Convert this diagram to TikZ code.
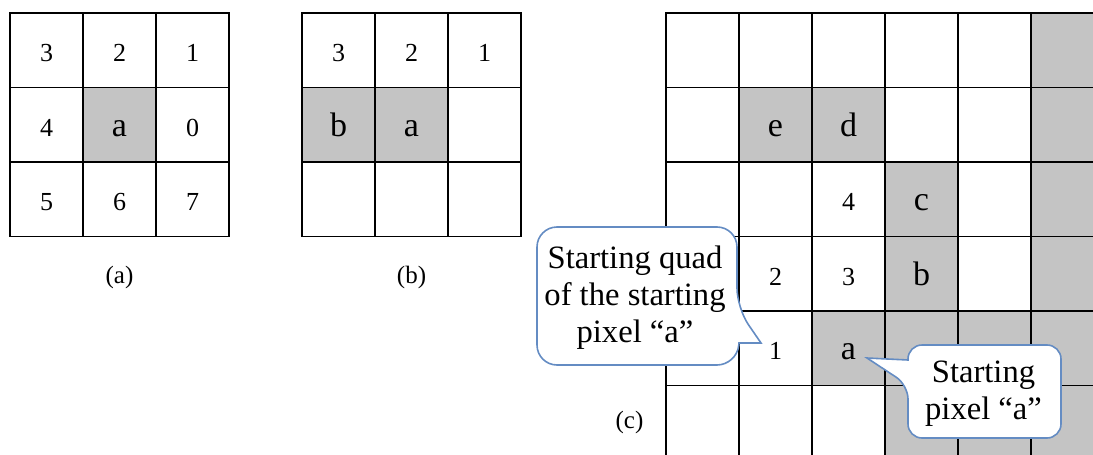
\documentclass[tikz,border=0pt]{standalone}
\usepackage{fontspec}
\setmainfont{Liberation Serif}
\usetikzlibrary{positioning}

\definecolor{pixelgray}{RGB}{196,196,196}
\definecolor{calloutblue}{RGB}{100,140,195}

\begin{document}
\begin{tikzpicture}[x=0.5pt, y=-0.5pt, on grid, node distance=37.25pt and 36.5pt]

		\tikzstyle{cell} = [draw, line width=0.8pt, minimum width=36.5pt, minimum height=37.25pt, inner sep=0pt]
		\tikzstyle{num} = [inner sep=0pt, text height=11.5pt, text depth=0pt, font=\fontsize{13}{15}\selectfont]
		\tikzstyle{chr} = [num, font=\fontsize{17}{20}\selectfont]
		\tikzstyle{caption} = [font=\fontsize{12.5}{14}\selectfont]
		\tikzstyle{callout} = [draw=calloutblue, fill=white, line width=0.8pt]
		\tikzstyle{calloutText} = [align=center, font=\fontsize{16.3}{18.5}\selectfont]

		\useasboundingbox (0,0) rectangle (1093,455);

		% Grid (a)
		\fill[pixelgray] (83,87.5) rectangle ++(73,74.5);
		\foreach \r in {0,1,2}
			\foreach \c in {0,1,2}
				\node[cell] (a\r\c) at (46.5+73*\c, 50.25+74.5*\r) {};
		\foreach \r/\c/\lbl in {0/0/3, 0/1/2, 0/2/1, 1/0/4, 1/2/0, 2/0/5, 2/1/6, 2/2/7}
			\node[num] (la\r\c) at (a\r\c) {\lbl};
		\node[chr] (la11) at (a11) {a};
		\node[caption, below=39pt of a21] (capA) {(a)};

		% Grid (b)
		\fill[pixelgray] (302,87.5) rectangle ++(146,74.5);
		\foreach \r in {0,1,2}
			\foreach \c in {0,1,2}
				\node[cell] (b\r\c) at (338.5+73*\c, 50.25+74.5*\r) {};
		\foreach \c/\lbl in {0/3, 1/2, 2/1}
			\node[num] (lb0\c) at (b0\c) {\lbl};
		\node[chr] (lb10) at (b10) {b};
		\node[chr] (lb11) at (b11) {a};
		\node[caption, below=39pt of b21] (capB) {(b)};

		% Grid (c)
		\begin{scope}
			\clip (0,0) rectangle (1093,455);
			\foreach \r/\c in {0/5, 1/1, 1/2, 1/5, 2/3, 2/5, 3/3, 3/5, 4/2, 4/3, 4/4, 4/5, 5/3, 5/4, 5/5}
				\fill[pixelgray] (666+73*\c, 13+74.5*\r) rectangle ++(73,74.5);
			\foreach \r in {0,...,5}
				\foreach \c in {0,...,5}
					\node[cell] (c\r\c) at (702.5+73*\c, 50.25+74.5*\r) {};
		\end{scope}
		\foreach \r/\c/\lbl in {2/2/4, 3/1/2, 3/2/3, 4/1/1}
			\node[num] (lc\r\c) at (c\r\c) {\lbl};
		\foreach \r/\c/\lbl in {1/1/e, 1/2/d, 2/3/c, 3/3/b, 4/2/a}
			\node[chr] (lc\r\c) at (c\r\c) {\lbl};
		\node[caption, left=36.5pt of c50] (capC) {(c)};

		% Callouts
		\draw[callout] (761,343) -- (739,343) [rounded corners=10pt] -- (737,365) -- (537,365) -- (537,227) -- (737,227) -- (737,308) [sharp corners] -- cycle;
		\node[calloutText] (quadText) at (635,298) {Starting quad\\of the starting\\pixel “a”};

		\draw[callout] (867,358) -- (908,360) [rounded corners=7pt] -- (908,345) -- (1061,345) -- (1061,438) -- (908,438) -- (908,385) [sharp corners] -- cycle;
		\node[calloutText] (pixelText) at (983.5,394) {Starting\\pixel “a”};

	\end{tikzpicture}
\end{document}
